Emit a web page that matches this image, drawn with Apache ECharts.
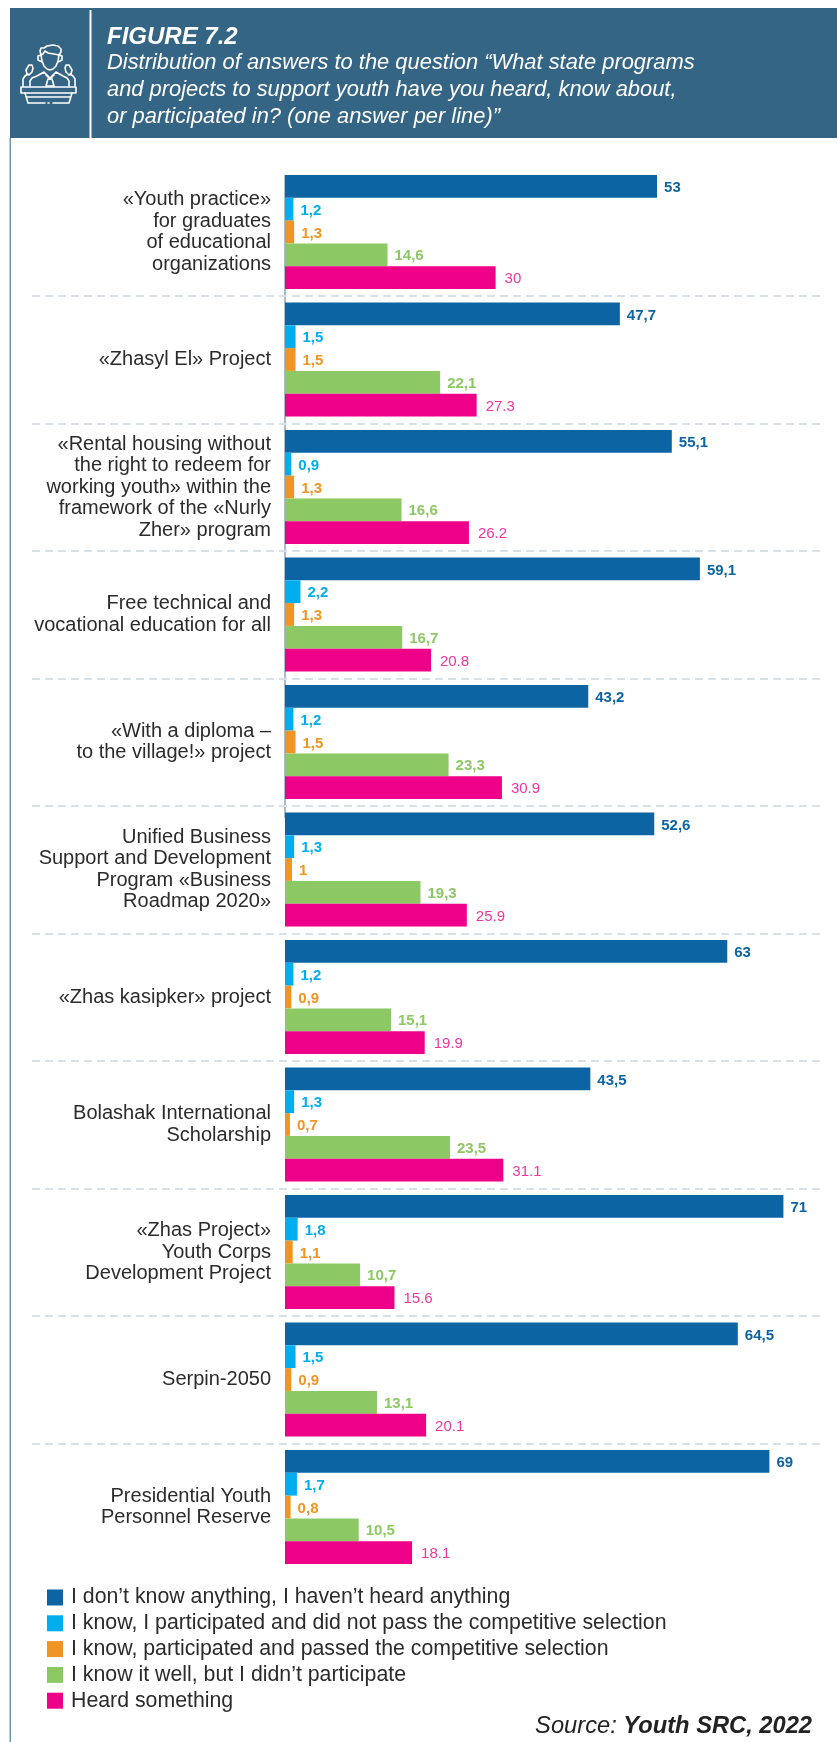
<!DOCTYPE html>
<html><head><meta charset="utf-8">
<style>html,body{margin:0;padding:0;background:#fff}#c{width:837px;height:1742px}</style>
<script src="https://cdn.jsdelivr.net/npm/echarts@6/dist/echarts.min.js"></script>
</head><body><div id="c"></div>
<script>
const categories = [
 "«Youth practice»\nfor graduates\nof educational\norganizations",
 "«Zhasyl El» Project",
 "«Rental housing without\nthe right to redeem for\nworking youth» within the\nframework of the «Nurly\nZher» program",
 "Free technical and\nvocational education for all",
 "«With a diploma –\nto the village!» project",
 "Unified Business\nSupport and Development\nProgram «Business\nRoadmap 2020»",
 "«Zhas kasipker» project",
 "Bolashak International\nScholarship",
 "«Zhas Project»\nYouth Corps\nDevelopment Project",
 "Serpin-2050",
 "Presidential Youth\nPersonnel Reserve"
];
const seriesNames = [
 "I don’t know anything, I haven’t heard anything",
 "I know, I participated and did not pass the competitive selection",
 "I know, participated and passed the competitive selection",
 "I know it well, but I didn’t participate",
 "Heard something"
];
const dontKnow   = [53,47.7,55.1,59.1,43.2,52.6,63,43.5,71,64.5,69];
const notPassed  = [1.2,1.5,0.9,2.2,1.2,1.3,1.2,1.3,1.8,1.5,1.7];
const passed     = [1.3,1.5,1.3,1.3,1.5,1,0.9,0.7,1.1,0.9,0.8];
const knowWell   = [14.6,22.1,16.6,16.7,23.3,19.3,15.1,23.5,10.7,13.1,10.5];
const heard      = [30,27.3,26.2,20.8,30.9,25.9,19.9,31.1,15.6,20.1,18.1];
const colors = ["#0d64a3","#00aeef","#f09423","#8cc863","#ee0088"];
const values = [dontKnow,notPassed,passed,knowWell,heard];
const SANS = '"Liberation Sans", Arial, sans-serif';

const chart = echarts.init(document.getElementById('c'), null, {renderer:'canvas'});
const top0 = 168.25, bandH = 127.5, gridH = bandH*categories.length;
const series = values.map((v,i)=>({
  name: seriesNames[i], type:'bar', data:v, xAxisIndex:0, yAxisIndex:0,
  barWidth: 22.8, barGap:'0%', itemStyle:{color:colors[i]},
  label:{show:true, position:'right', distance: i===4?9:7, offset:[0,1.5], color: i===4?'#f0359c':colors[i],
    fontFamily:SANS, fontSize: 15, fontWeight: i===4?'normal':'bold',
    formatter:p=> i===4 ? String(p.value) : String(p.value).replace('.',',')}
}));
series.push({type:'bar', data:[], xAxisIndex:1, yAxisIndex:1, silent:true});
const iconLines = [
 [[41,55],[42,61],[44,66],[47,69],[50,70],[53,69],[56,66],[58,61],[59,55]],
 [[41,55],[40,51],[41,48],[44,48],[47,46],[53,45],[58,46],[61,49],[61,52],[59,55],[54,54],[48,53],[45,51],[43,54],[41,55]],
 [[41,55],[38,56],[38,60],[42,62]],
 [[59,55],[62,56],[62,60],[58,62]],
 [[30,86],[30,81],[32,78],[37,76],[44,72],[50,78],[56,72],[63,76],[67,78],[69,81],[69,86]],
 [[46,75],[50,79],[54,75]],
 [[48,79],[52,79],[54,86],[46,86],[48,79]],
 [[23,86],[23,79],[25,76],[28,74]],
 [[75,86],[75,79],[73,76],[70,74]],
 [[29,65],[32,65],[33,68],[32,72],[29,75],[27,74],[26,70],[29,65]],
 [[69,65],[66,65],[65,68],[66,72],[69,75],[71,74],[72,70],[69,65]],
 [[21,87],[76,87],[76,93],[21,93],[21,87]],
 [[25,93],[28,103],[45,103]],
 [[53,103],[69,103],[72,93]],
 [[48,103],[49,103]],
 [[27,97],[70,97]]
];
const option = {
  animation:false, backgroundColor:'#fff',
  title:{
    left:102, top:20, itemGap:0,
    text:'FIGURE 7.2',
    textStyle:{color:'#fff',fontFamily:SANS,fontStyle:'italic',fontWeight:'bold',fontSize:24},
    subtext:'Distribution of answers to the question “What state programs\nand projects to support youth have you heard, know about,\nor participated in? (one answer per line)”',
    subtextStyle:{color:'#fff',fontFamily:SANS,fontStyle:'italic',fontSize:21.9,lineHeight:27.2}
  },
  legend:{
    orient:'vertical', left:47, top:1587, padding:0, itemWidth:16, itemHeight:16, itemGap:4.8, icon:'rect',
    data:seriesNames, selectedMode:false,
    textStyle:{color:'#2b2b2b',fontFamily:SANS,fontSize:21.3,lineHeight:16,padding:[0,0,0,3]}
  },
  grid:[
    {left:285,top:top0,width:526.5,height:gridH},
    {left:32,top:top0,width:793,height:gridH}
  ],
  xAxis:[
    {type:'value',min:0,max:75,show:false,gridIndex:0},
    {type:'value',min:0,max:1,show:false,gridIndex:1}
  ],
  yAxis:[
    {type:'category',inverse:true,data:categories,gridIndex:0,
     axisLine:{show:false},axisTick:{show:false},splitLine:{show:false},
     axisLabel:{color:'#2b2b2b',fontFamily:SANS,fontSize:20,lineHeight:21.5,padding:[3,0,0,0],align:'right',margin:14,interval:0}},
    {type:'category',inverse:true,data:categories,gridIndex:1,
     axisLine:{show:false},axisTick:{show:false},axisLabel:{show:false},
     splitLine:{show:true,showMinLine:false,showMaxLine:false,interval:0,
       lineStyle:{color:'#d9e1e7',width:2,type:[8,5]}}}
  ],
  series,
  graphic:[
    {type:'rect',z:-10,shape:{x:10,y:8,width:827,height:130},style:{fill:'#346584'}},
    {type:'rect',z:-9,shape:{x:89.5,y:10,width:2,height:128},style:{fill:'#fff'}},
    {type:'rect',z:-9,shape:{x:9.5,y:138,width:1.5,height:1604},style:{fill:'#6f97b3'}},
    {type:'rect',z:-8,shape:{x:284,y:175,width:2,height:643},style:{fill:'#a9bcc9'}},
    ...iconLines.map(p=>({type:'polyline',z:-7,shape:{points:p},
      style:{fill:null,stroke:'#fff',lineWidth:1.6,lineJoin:'round',lineCap:'round'}})),
    {type:'text',x:812,y:1726,z:5,style:{
      text:'{a|Source: }{b|Youth SRC, 2022}',align:'right',verticalAlign:'middle',
      rich:{
        a:{fontFamily:SANS,fontStyle:'italic',fontSize:23.7,fill:'#222'},
        b:{fontFamily:SANS,fontStyle:'italic',fontWeight:'bold',fontSize:23.7,fill:'#222'}
      }}}
  ]
};
chart.setOption(option);
</script></body></html>
